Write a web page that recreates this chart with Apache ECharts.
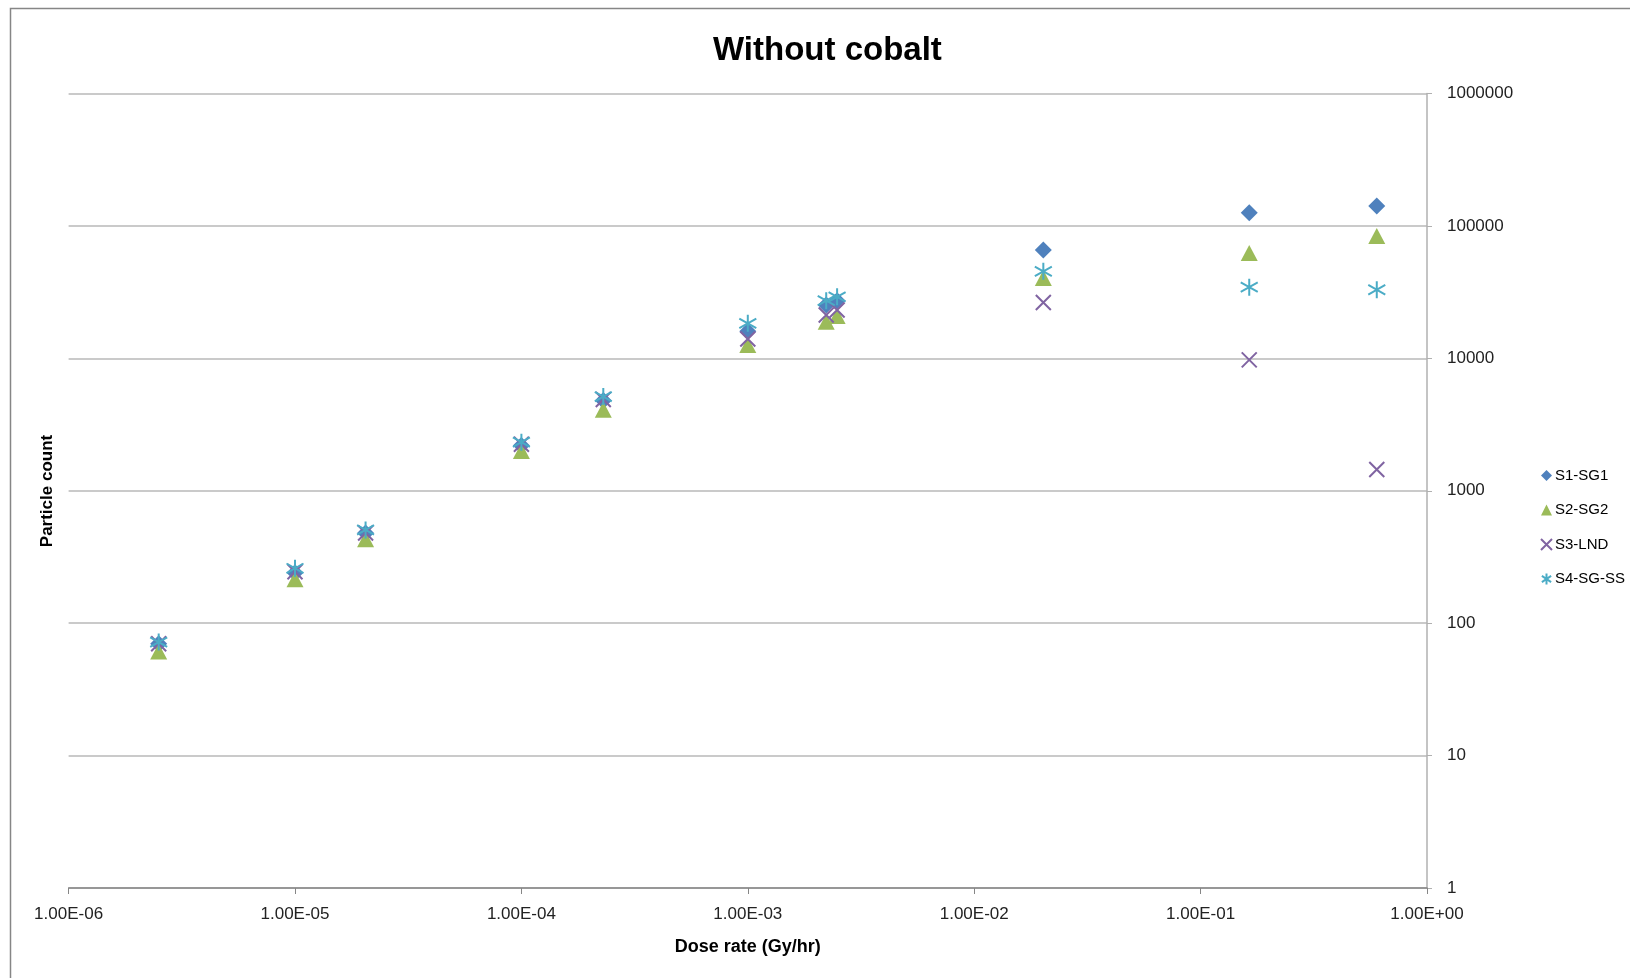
<!DOCTYPE html>
<html>
<head>
<meta charset="utf-8">
<script src="https://cdn.jsdelivr.net/npm/echarts@6/dist/echarts.min.js"></script>
<style>
html,body{margin:0;padding:0;background:#fff;}
#chart{width:1630px;height:978px;}
</style>
</head>
<body>
<div id="chart"></div>
<script>
// ---- data ----
const doseRates = [2.5e-6, 1e-5, 2.05e-5, 1e-4, 2.3e-4, 1e-3, 2.22e-3, 2.48e-3, 2.02e-2, 1.64e-1, 6e-1];
const s1SG1   = [70, 240, 480, 2200, 4800, 16000, 25300, 27300, 65900, 126000, 141600];
const s2SG2   = [61, 215, 430, 2000, 4100, 12600, 18900, 20900, 40500, 62500, 84000];
const s3LND   = [70, 245, 480, 2250, 4900, 14000, 21300, 23200, 26400, 9750, 1450];
const s4SGSS  = [72, 260, 506, 2330, 5150, 18400, 27300, 29200, 45500, 34500, 33000];
const seriesNames = ['S1-SG1', 'S2-SG2', 'S3-LND', 'S4-SG-SS'];
const xTickLabels = ['1.00E-06', '1.00E-05', '1.00E-04', '1.00E-03', '1.00E-02', '1.00E-01', '1.00E+00'];
const yTickLabels = ['1', '10', '100', '1000', '10000', '100000', '1000000'];

const colors = ['#4F81BD', '#9BBB59', '#8064A2', '#4BACC6'];
const X_PATH = 'path://M0,0L10,10M10,0L0,10';
const STAR_PATH = 'path://M5,0L5,10M0.8,2.2L9.2,7.8M9.2,2.2L0.8,7.8';

function pairs(vals) { return doseRates.map((x, i) => [x, vals[i]]); }
function idx(v) { return Math.round(Math.log10(v)); }

const chart = echarts.init(document.getElementById('chart'), null, {renderer: 'canvas'});
const FONT = '"Liberation Sans", Arial, sans-serif';

const option = {
  animation: false,
  backgroundColor: '#fff',
  title: {
    text: 'Without cobalt',
    left: 708,
    top: 29,
    textStyle: {fontFamily: FONT, fontWeight: 'bold', fontSize: 33, color: '#000'}
  },
  grid: {left: 68.6, right: 203, top: 93.6, bottom: 90, containLabel: false},
  legend: {
    orient: 'vertical',
    left: 1535,
    top: 463,
    itemWidth: 11,
    itemHeight: 11,
    itemGap: 19.5,
    data: seriesNames,
    textStyle: {fontFamily: FONT, fontSize: 15, color: '#000', padding: [0, 0, 0, -2]}
  },
  xAxis: {
    type: 'log',
    logBase: 10,
    min: 1e-6,
    max: 1,
    name: 'Dose rate (Gy/hr)',
    nameLocation: 'middle',
    nameGap: 50,
    nameTextStyle: {fontFamily: FONT, fontWeight: 'bold', fontSize: 18, color: '#000'},
    axisLine: {show: true, lineStyle: {color: '#868686', width: 1.5}},
    axisTick: {show: true, length: 6, lineStyle: {color: '#868686'}},
    splitLine: {show: false},
    axisLabel: {
      fontFamily: FONT, fontSize: 17, color: '#222', margin: 18,
      formatter: v => xTickLabels[idx(v) + 6]
    }
  },
  yAxis: {
    type: 'log',
    logBase: 10,
    min: 1,
    max: 1e6,
    position: 'right',
    axisLine: {show: true, lineStyle: {color: '#b0b0b0', width: 1.5}},
    axisTick: {show: true, length: 5, lineStyle: {color: '#b0b0b0'}},
    splitLine: {show: true, lineStyle: {color: '#b8b8b8', width: 1.5}},
    axisLabel: {
      fontFamily: FONT, fontSize: 17, color: '#222', margin: 20,
      formatter: v => yTickLabels[idx(v)]
    }
  },
  graphic: [
    {type: 'polyline', shape: {points: [[10.5, 1000], [10.5, 8.5], [1700, 8.5]]},
     style: {stroke: '#868686', lineWidth: 1.5, fill: null}, silent: true},
    {type: 'text', x: 47, y: 491, rotation: Math.PI / 2,
     style: {text: 'Particle count', fontFamily: FONT, fontWeight: 'bold', fontSize: 17,
             fill: '#000', align: 'center', verticalAlign: 'middle'}}
  ],
  series: [
    {name: seriesNames[0], type: 'scatter', data: pairs(s1SG1), symbol: 'diamond', symbolSize: 17,
     itemStyle: {color: colors[0], opacity: 1}},
    {name: seriesNames[1], type: 'scatter', data: pairs(s2SG2), symbol: 'triangle', symbolSize: [17, 16],
     itemStyle: {color: colors[1], opacity: 1}},
    {name: seriesNames[2], type: 'scatter', data: pairs(s3LND), symbol: X_PATH, symbolSize: 15,
     itemStyle: {color: colors[2], borderColor: colors[2], borderWidth: 2, opacity: 1}},
    {name: seriesNames[3], type: 'scatter', data: pairs(s4SGSS), symbol: STAR_PATH, symbolSize: 17,
     itemStyle: {color: colors[3], borderColor: colors[3], borderWidth: 2, opacity: 1}}
  ].map(s => Object.assign(s, {emphasis: {disabled: true}}))
};
chart.setOption(option);
</script>
</body>
</html>
